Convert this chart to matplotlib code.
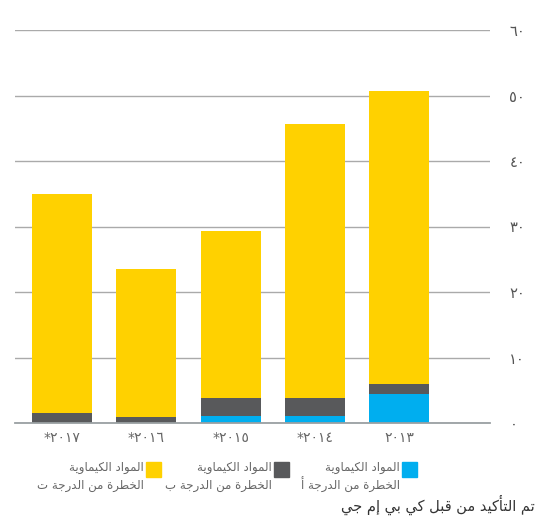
import matplotlib
matplotlib.use('Agg')
import matplotlib.pyplot as plt
from matplotlib.patches import Rectangle

# data (left to right as drawn: 2017 ... 2013)
years = ['*٢٠١٧', '*٢٠١٦', '*٢٠١٥', '*٢٠١٤', '٢٠١٣']
grade_a = [0.0, 0.0, 1.1, 1.1, 4.4]
grade_b = [1.6, 0.9, 2.7, 2.7, 1.6]
grade_c = [33.4, 22.6, 25.5, 41.8, 44.7]
y_ticks = [0, 10, 20, 30, 40, 50, 60]
y_tick_labels = ['٠', '١٠', '٢٠', '٣٠', '٤٠', '٥٠', '٦٠']

legend_line1 = 'المواد الكيماوية'
legend_line2 = ['الخطرة من الدرجة أ', 'الخطرة من الدرجة ب', 'الخطرة من الدرجة ت']
footnote = 'تم التأكيد من قبل كي بي إم جي'

BLUE = '#00aeef'
GREY = '#58595b'
YELLOW = '#ffd100'

# minimal arabic shaping: (isolated code, number of forms)
FORMS = {
    'ا': (0xFE8D, 2), 'أ': (0xFE83, 2), 'إ': (0xFE87, 2), 'ة': (0xFE93, 2),
    'د': (0xFEA9, 2), 'ر': (0xFEAD, 2), 'و': (0xFEED, 2), 'ى': (0xFEEF, 2),
    'ب': (0xFE8F, 4), 'ت': (0xFE95, 4), 'ج': (0xFE9D, 4), 'خ': (0xFEA5, 4),
    'ط': (0xFEC1, 4), 'ق': (0xFED5, 4), 'ك': (0xFED9, 4), 'ل': (0xFEDD, 4),
    'م': (0xFEE1, 4), 'ن': (0xFEE5, 4), 'ي': (0xFEF1, 4),
}


def shape(s):
    out = []
    for i, ch in enumerate(s):
        if ch not in FORMS:
            out.append(ch)
            continue
        base, n = FORMS[ch]
        prev = s[i - 1] if i > 0 else ''
        nxt = s[i + 1] if i + 1 < len(s) else ''
        join_prev = prev in FORMS and FORMS[prev][1] == 4
        join_next = n == 4 and nxt in FORMS
        if join_prev and join_next:
            code = base + 3
        elif join_prev:
            code = base + 1
        elif join_next:
            code = base + 2
        else:
            code = base
        out.append(chr(code))
    return ''.join(reversed(out))


plt.rcParams['font.family'] = ['DejaVu Sans']

W, H = 537, 517
fig = plt.figure(figsize=(W / 100, H / 100), dpi=100)
ax = fig.add_axes([15 / W, 94 / H, 475 / W, 393 / H])

x = list(range(len(years)))
bottom_c = [a + b for a, b in zip(grade_a, grade_b)]
ax.bar(x, grade_a, width=0.71, color=BLUE, zorder=3)
ax.bar(x, grade_b, bottom=grade_a, width=0.71, color=GREY, zorder=3)
ax.bar(x, grade_c, bottom=bottom_c, width=0.71, color=YELLOW, zorder=3)

ax.set_xlim(-0.56, 5.08)
ax.set_ylim(0, 60)
ax.set_yticks(y_ticks)
ax.set_yticklabels(y_tick_labels)
ax.yaxis.tick_right()
ax.tick_params(axis='y', length=0, pad=14, labelsize=10.5, labelcolor='#555555')
for lab in ax.get_yticklabels():
    lab.set_horizontalalignment('left')
ax.set_xticks(x)
ax.set_xticklabels(years)
ax.tick_params(axis='x', length=0, pad=6, labelsize=10, labelcolor='#666666')
ax.grid(axis='y', color='#aaaaaa', linewidth=1, zorder=0)
for sp in ['top', 'left', 'right']:
    ax.spines[sp].set_visible(False)
ax.spines['bottom'].set_color('#9aa0a3')
ax.spines['bottom'].set_linewidth(1.3)
ax.spines['bottom'].set_zorder(4)

# legend, right to left
legend_colors = [BLUE, GREY, YELLOW]
square_x = [402, 274, 146]
for sx, col, line2 in zip(square_x, legend_colors, legend_line2):
    fig.add_artist(Rectangle((sx / W, 1 - 477 / H), 15 / W, 15 / H,
                             transform=fig.transFigure, color=col))
    fig.text((sx - 2) / W, 1 - 467 / H, shape(legend_line1), ha='right',
             va='center', fontsize=8.5, color='#666666')
    fig.text((sx - 2) / W, 1 - 485 / H, shape(line2), ha='right',
             va='center', fontsize=8.5, color='#666666')

fig.text(535 / W, 1 - 505 / H, shape(footnote), ha='right', va='center',
         fontsize=10.5, color='#333333')

fig.savefig('out.png', dpi=100)
